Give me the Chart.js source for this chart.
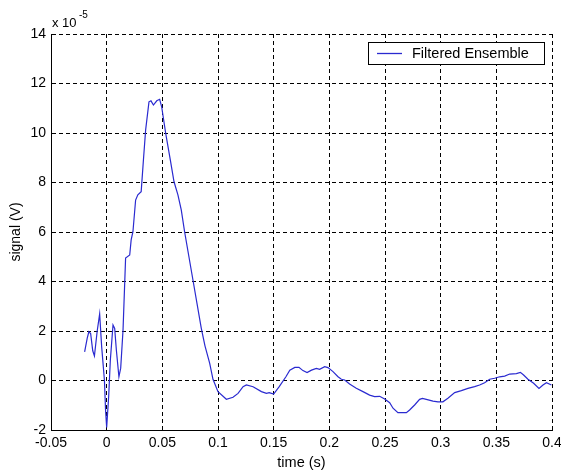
<!DOCTYPE html>
<html>
<head>
<meta charset="utf-8">
<script src="https://cdn.jsdelivr.net/npm/chart.js@4"></script>
<style>
  html, body { margin: 0; padding: 0; background: #fff; }
  #chart { display: block; }
</style>
</head>
<body>
<canvas id="chart" width="561" height="474"></canvas>
<script>
// time axis (s)
const time = [
    -0.0198, -0.0175, -0.016, -0.0144, -0.0125, -0.011, -0.0085, -0.0063, -0.0045, -0.002, -0.001,
    0.0, 0.0018, 0.0033, 0.0057, 0.0072, 0.0087, 0.011, 0.0126, 0.0147, 0.017, 0.0207, 0.022,
    0.0236, 0.026, 0.028, 0.031, 0.033, 0.035, 0.038, 0.0398, 0.042, 0.045, 0.0476, 0.0494,
    0.053, 0.0572, 0.0605, 0.064, 0.067, 0.070, 0.0775, 0.085, 0.0883, 0.0925, 0.0955,
    0.1, 0.1075, 0.1135, 0.118, 0.1225, 0.1255, 0.1315, 0.139, 0.1435, 0.146, 0.150,
    0.155, 0.161, 0.1645, 0.169, 0.1727, 0.1763, 0.18, 0.184, 0.1883, 0.1913, 0.1958, 0.1988,
    0.2033, 0.2078, 0.2108, 0.2138, 0.2182, 0.2242, 0.2302, 0.2362, 0.2407, 0.2452, 0.2497,
    0.2542, 0.2572, 0.2616, 0.2692, 0.2721, 0.2766, 0.2811, 0.2836, 0.2871, 0.2931, 0.2976,
    0.302, 0.3065, 0.3126, 0.3186, 0.3245, 0.3305, 0.335, 0.3395, 0.344, 0.3485, 0.353,
    0.3575, 0.362, 0.368, 0.3716, 0.3745, 0.3784, 0.3835, 0.3883, 0.3919, 0.395, 0.3995
];

// signal, in units of 1e-5 V
const signal = [
    1.16, 1.7, 1.97, 1.9, 1.2, 0.99, 2.0, 2.69, 1.37, 0.0, -1.2,
    -1.9, -0.65, 0.83, 2.24, 2.1, 1.23, 0.15, 0.5, 2.04, 4.95, 5.07, 5.68,
    6.01, 7.29, 7.5, 7.63, 8.9, 10.12, 11.26, 11.3, 11.13, 11.3, 11.36, 11.06,
    9.99, 8.9, 8.03, 7.5, 6.89, 6.01, 4.06, 2.11, 1.4, 0.7, 0.05,
    -0.45, -0.76, -0.68, -0.52, -0.25, -0.18, -0.25, -0.45, -0.52, -0.49, -0.55,
    -0.25, 0.15, 0.42, 0.53, 0.53, 0.40, 0.32, 0.42, 0.49, 0.45, 0.56, 0.52,
    0.36, 0.15, 0.05, 0.02, -0.14, -0.31, -0.45, -0.59, -0.65, -0.64, -0.75,
    -0.9, -1.12, -1.3, -1.3, -1.19, -0.99, -0.76, -0.72, -0.76, -0.83, -0.86,
    -0.86, -0.72, -0.49, -0.41, -0.32, -0.25, -0.18, -0.09, 0.05, 0.09, 0.15,
    0.18, 0.26, 0.28, 0.33, 0.22, 0.05, -0.11, -0.32, -0.18, -0.09, -0.18
];

const xTicks = [-0.05, 0, 0.05, 0.1, 0.15, 0.2, 0.25, 0.3, 0.35, 0.4];
const xTickLabels = ['-0.05', '0', '0.05', '0.1', '0.15', '0.2', '0.25', '0.3', '0.35', '0.4'];
const yTicks = [-2, 0, 2, 4, 6, 8, 10, 12, 14];
const yTickLabels = ['-2', '0', '2', '4', '6', '8', '10', '12', '14'];

const FONT = '"Liberation Sans", Arial, Helvetica, sans-serif';
const LINE_COLOR = '#2a2ad0';

// draws the "x 10^-5" multiplier and the boxed legend
const extras = {
    id: 'extras',
    afterDraw(chart) {
        const ctx = chart.ctx;
        const area = chart.chartArea;
        ctx.save();
        ctx.fillStyle = '#000';
        ctx.textBaseline = 'alphabetic';
        ctx.textAlign = 'left';
        ctx.font = '13px ' + FONT;
        ctx.fillText('x 10', area.left + 1, 27);
        ctx.font = '10px ' + FONT;
        ctx.fillText('-5', area.left + 28, 18);

        // legend
        const bx = 368, by = 42, bw = 176, bh = 22;
        ctx.fillStyle = '#fff';
        ctx.fillRect(bx, by, bw, bh);
        ctx.strokeStyle = '#000';
        ctx.lineWidth = 1;
        ctx.strokeRect(bx + 0.5, by + 0.5, bw, bh);
        ctx.strokeStyle = LINE_COLOR;
        ctx.lineWidth = 1.3;
        ctx.beginPath();
        ctx.moveTo(bx + 9, by + 11.5);
        ctx.lineTo(bx + 34, by + 11.5);
        ctx.stroke();
        ctx.fillStyle = '#000';
        ctx.font = '14.5px ' + FONT;
        ctx.textBaseline = 'middle';
        ctx.fillText(chart.data.datasets[0].label, bx + 44, by + 12);
        ctx.restore();
    }
};

const ctx = document.getElementById('chart').getContext('2d');
new Chart(ctx, {
    type: 'line',
    data: {
        datasets: [{
            label: 'Filtered Ensemble',
            data: time.map((t, i) => ({ x: t, y: signal[i] })),
            borderColor: LINE_COLOR,
            borderWidth: 1.2,
            pointRadius: 0,
            tension: 0,
            fill: false
        }]
    },
    options: {
        responsive: false,
        animation: false,
        events: [],
        layout: { padding: { left: 0, top: 34, right: 9, bottom: 0 } },
        plugins: {
            legend: { display: false },
            tooltip: { enabled: false }
        },
        scales: {
            x: {
                type: 'linear',
                min: -0.05,
                max: 0.4,
                afterBuildTicks: (scale) => { scale.ticks = xTicks.map(v => ({ value: v })); },
                afterFit: (scale) => {
                    scale.height = 44;
                    scale.paddingLeft = 0;
                    scale.paddingRight = 0;
                },
                ticks: {
                    callback: (v) => xTickLabels[xTicks.findIndex(t => Math.abs(t - v) < 1e-9)],
                    font: { family: FONT, size: 14 },
                    color: '#000',
                    padding: 5,
                    maxRotation: 0,
                    autoSkip: false
                },
                grid: { color: '#000', lineWidth: 1, drawTicks: false },
                border: { display: true, color: '#000', width: 1, dash: [4, 3] },
                title: {
                    display: true,
                    text: 'time (s)',
                    font: { family: FONT, size: 14.5 },
                    color: '#000',
                    padding: { top: 0, bottom: 2 }
                }
            },
            y: {
                type: 'linear',
                min: -2,
                max: 14,
                afterBuildTicks: (scale) => { scale.ticks = yTicks.map(v => ({ value: v })); },
                afterFit: (scale) => {
                    scale.width = 51;
                    scale.paddingTop = 0;
                    scale.paddingBottom = 0;
                },
                ticks: {
                    callback: (v) => yTickLabels[yTicks.indexOf(v)],
                    font: { family: FONT, size: 14 },
                    color: '#000',
                    padding: 5
                },
                grid: { color: '#000', lineWidth: 1, drawTicks: false },
                border: { display: true, color: '#000', width: 1, dash: [4, 3] },
                title: {
                    display: true,
                    text: 'signal (V)',
                    font: { family: FONT, size: 14 },
                    color: '#000',
                    padding: { top: 8, bottom: 0 }
                }
            }
        }
    },
    plugins: [extras]
});
</script>
</body>
</html>
